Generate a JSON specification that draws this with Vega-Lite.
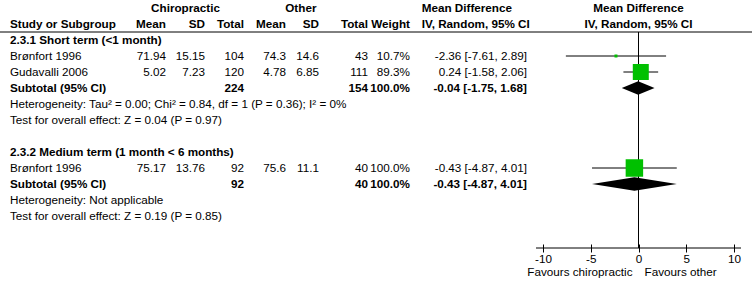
{
  "$schema": "https://vega.github.io/schema/vega-lite/v6.json",
  "width": 752,
  "height": 288,
  "padding": 0,
  "autosize": "none",
  "background": "white",
  "config": {
    "view": {"stroke": null},
    "font": "Liberation Sans",
    "text": {"font": "Liberation Sans", "fontSize": 11.7, "color": "black"}
  },
  "datasets": {
    "studies": [
      {"grp": "2.3.1", "row": 3, "kind": "study", "label": "Brønfort 1996", "mean1": 71.94, "sd1": 15.15, "n1": 104, "mean2": 74.3, "sd2": 14.6, "n2": 43, "weight": 10.7, "md": -2.36, "lo": -7.61, "hi": 2.89},
      {"grp": "2.3.1", "row": 4, "kind": "study", "label": "Gudavalli 2006", "mean1": 5.02, "sd1": 7.23, "n1": 120, "mean2": 4.78, "sd2": 6.85, "n2": 111, "weight": 89.3, "md": 0.24, "lo": -1.58, "hi": 2.06},
      {"grp": "2.3.1", "row": 5, "kind": "subtotal", "label": "Subtotal (95% CI)", "n1": 224, "n2": 154, "weight": 100, "md": -0.04, "lo": -1.75, "hi": 1.68},
      {"grp": "2.3.2", "row": 10, "kind": "study", "label": "Brønfort 1996", "mean1": 75.17, "sd1": 13.76, "n1": 92, "mean2": 75.6, "sd2": 11.1, "n2": 40, "weight": 100, "md": -0.43, "lo": -4.87, "hi": 4.01},
      {"grp": "2.3.2", "row": 11, "kind": "subtotal", "label": "Subtotal (95% CI)", "n1": 92, "n2": 40, "weight": 100, "md": -0.43, "lo": -4.87, "hi": 4.01}
    ],
    "colheads": [
      {"col": 1, "name": "Mean"},
      {"col": 2, "name": "SD"},
      {"col": 3, "name": "Total"},
      {"col": 4, "name": "Mean"},
      {"col": 5, "name": "SD"},
      {"col": 6, "name": "Total"},
      {"col": 7, "name": "Weight"}
    ],
    "groups": [
      {"row": 2, "title": "2.3.1 Short term (<1 month)"},
      {"row": 9, "title": "2.3.2 Medium term (1 month < 6 months)"}
    ],
    "notes": [
      {"row": 6, "text": "Heterogeneity: Tau² = 0.00; Chi² = 0.84, df = 1 (P = 0.36); I² = 0%"},
      {"row": 7, "text": "Test for overall effect: Z = 0.04 (P = 0.97)"},
      {"row": 12, "text": "Heterogeneity: Not applicable"},
      {"row": 13, "text": "Test for overall effect: Z = 0.19 (P = 0.85)"}
    ]
  },
  "layer": [
    {
      "layer": [
        {
          "data": {"values": [{}]},
          "mark": {"type": "rule", "color": "black", "strokeWidth": 1},
          "encoding": {
            "x": {"datum": -1, "type": "quantitative", "axis": null,
                  "scale": {"type": "linear", "domain": [-1, 0, 1, 2, 3, 4, 5, 6, 7, 8, 9], "range": [0, 10, 166, 205, 244, 286, 319, 368, 410, 527, 752], "nice": false, "zero": false}},
            "x2": {"datum": 9},
            "y": {"datum": 1.5, "type": "quantitative", "axis": null,
                  "scale": {"domain": [-0.5, 17.5], "reverse": true, "nice": false, "zero": false}}
          }
        },
        {
          "data": {"values": [{}]},
          "mark": {"type": "text", "fontWeight": "bold", "align": "center"},
          "encoding": {
            "x": {"datum": 1.5, "type": "quantitative", "axis": null},
            "y": {"datum": 0, "type": "quantitative", "axis": null},
            "text": {"value": "Chiropractic"}
          }
        },
        {
          "data": {"values": [{}]},
          "mark": {"type": "text", "fontWeight": "bold", "align": "center"},
          "encoding": {
            "x": {"datum": 4.45, "type": "quantitative", "axis": null},
            "y": {"datum": 0, "type": "quantitative", "axis": null},
            "text": {"value": "Other"}
          }
        },
        {
          "data": {"values": [{}]},
          "mark": {"type": "text", "fontWeight": "bold", "align": "left"},
          "encoding": {
            "x": {"datum": 7.1, "type": "quantitative", "axis": null},
            "y": {"datum": 0, "type": "quantitative", "axis": null},
            "text": {"value": "Mean Difference"}
          }
        },
        {
          "data": {"values": [{}]},
          "mark": {"type": "text", "fontWeight": "bold", "align": "left"},
          "encoding": {
            "x": {"datum": 0, "type": "quantitative", "axis": null},
            "y": {"datum": 1, "type": "quantitative", "axis": null},
            "text": {"value": "Study or Subgroup"}
          }
        },
        {
          "data": {"name": "colheads"},
          "mark": {"type": "text", "fontWeight": "bold", "align": "right"},
          "encoding": {
            "x": {"field": "col", "type": "quantitative", "axis": null},
            "y": {"datum": 1, "type": "quantitative", "axis": null},
            "text": {"field": "name", "type": "nominal"}
          }
        },
        {
          "data": {"values": [{}]},
          "mark": {"type": "text", "fontWeight": "bold", "align": "left"},
          "encoding": {
            "x": {"datum": 7.1, "type": "quantitative", "axis": null},
            "y": {"datum": 1, "type": "quantitative", "axis": null},
            "text": {"value": "IV, Random, 95% CI"}
          }
        },
        {
          "data": {"name": "groups"},
          "mark": {"type": "text", "fontWeight": "bold", "align": "left"},
          "encoding": {
            "x": {"datum": 0, "type": "quantitative", "axis": null},
            "y": {"field": "row", "type": "quantitative", "axis": null},
            "text": {"field": "title", "type": "nominal"}
          }
        },
        {
          "data": {"name": "notes"},
          "mark": {"type": "text", "align": "left"},
          "encoding": {
            "x": {"datum": 0, "type": "quantitative", "axis": null},
            "y": {"field": "row", "type": "quantitative", "axis": null},
            "text": {"field": "text", "type": "nominal"}
          }
        },
        {
          "data": {"name": "studies"},
          "transform": [{"filter": "datum.kind == 'study'"}],
          "mark": {"type": "text", "align": "left"},
          "encoding": {
            "x": {"datum": 0, "type": "quantitative", "axis": null},
            "y": {"field": "row", "type": "quantitative", "axis": null},
            "text": {"field": "label", "type": "nominal"}
          }
        },
        {
          "data": {"name": "studies"},
          "transform": [{"filter": "datum.kind == 'subtotal'"}],
          "mark": {"type": "text", "align": "left", "fontWeight": "bold"},
          "encoding": {
            "x": {"datum": 0, "type": "quantitative", "axis": null},
            "y": {"field": "row", "type": "quantitative", "axis": null},
            "text": {"field": "label", "type": "nominal"}
          }
        },
        {
          "data": {"name": "studies"},
          "transform": [
            {"filter": "datum.kind == 'study'"},
            {"calculate": "format(datum.weight, '.1f') + '%'", "as": "wtxt"},
            {"calculate": "datum.md + ' [' + datum.lo + ', ' + datum.hi + ']'", "as": "citxt"},
            {"fold": ["mean1", "sd1", "n1", "mean2", "sd2", "n2", "wtxt", "citxt"], "as": ["key", "val"]},
            {"filter": "isValid(datum.val)"},
            {"calculate": "indexof(['label', 'mean1', 'sd1', 'n1', 'mean2', 'sd2', 'n2', 'wtxt', 'citxt'], datum.key)", "as": "col"}
          ],
          "mark": {"type": "text", "align": "right"},
          "encoding": {
            "x": {"field": "col", "type": "quantitative", "axis": null},
            "y": {"field": "row", "type": "quantitative", "axis": null},
            "text": {"field": "val", "type": "nominal"}
          }
        },
        {
          "data": {"name": "studies"},
          "transform": [
            {"filter": "datum.kind == 'subtotal'"},
            {"calculate": "format(datum.weight, '.1f') + '%'", "as": "wtxt"},
            {"calculate": "datum.md + ' [' + datum.lo + ', ' + datum.hi + ']'", "as": "citxt"},
            {"fold": ["mean1", "sd1", "n1", "mean2", "sd2", "n2", "wtxt", "citxt"], "as": ["key", "val"]},
            {"filter": "isValid(datum.val)"},
            {"calculate": "indexof(['label', 'mean1', 'sd1', 'n1', 'mean2', 'sd2', 'n2', 'wtxt', 'citxt'], datum.key)", "as": "col"}
          ],
          "mark": {"type": "text", "align": "right", "fontWeight": "bold"},
          "encoding": {
            "x": {"field": "col", "type": "quantitative", "axis": null},
            "y": {"field": "row", "type": "quantitative", "axis": null},
            "text": {"field": "val", "type": "nominal"}
          }
        }
      ]
    },
    {
      "layer": [
        {
          "data": {"values": [{}]},
          "mark": {"type": "rule", "color": "black", "strokeWidth": 1},
          "encoding": {
            "x": {"datum": 0, "type": "quantitative",
                  "scale": {"type": "linear", "domain": [-10.74, 10.74], "range": [536, 741], "nice": false, "zero": false},
                  "axis": {"values": [-10, -5, 0, 5, 10], "offset": -44, "domain": false, "grid": false, "ticks": true, "tickSize": 8, "tickColor": "black", "tickWidth": 1, "labelColor": "black", "labelFont": "Liberation Sans", "labelFontSize": 11.7, "labelPadding": 1, "labelExpr": "'' + datum.value", "title": null, "labelFlush": false, "labelOverlap": false, "labelBound": false}},
            "y": {"datum": 1.5, "type": "quantitative", "axis": null},
            "y2": {"datum": 15}
          }
        },
        {
          "data": {"values": [{}]},
          "mark": {"type": "rule", "color": "black", "strokeWidth": 1},
          "encoding": {
            "x": {"datum": -10.74, "type": "quantitative"},
            "x2": {"datum": 10.74},
            "y": {"datum": 15, "type": "quantitative", "axis": null}
          }
        },
        {
          "data": {"name": "studies"},
          "transform": [{"filter": "datum.kind == 'study'"}],
          "mark": {"type": "rule", "color": "black", "strokeWidth": 1},
          "encoding": {
            "x": {"field": "lo", "type": "quantitative"},
            "x2": {"field": "hi"},
            "y": {"field": "row", "type": "quantitative", "axis": null}
          }
        },
        {
          "data": {"name": "studies"},
          "transform": [{"filter": "datum.kind == 'study'"}],
          "mark": {"type": "square", "color": "#00c000", "filled": true, "opacity": 1},
          "encoding": {
            "x": {"field": "md", "type": "quantitative"},
            "y": {"field": "row", "type": "quantitative", "axis": null},
            "size": {"field": "weight", "type": "quantitative", "legend": null,
                     "scale": {"type": "pow", "exponent": 1.58, "domain": [0, 100], "range": [0, 306]}}
          }
        },
        {
          "data": {"name": "studies"},
          "transform": [
            {"filter": "datum.kind == 'subtotal'"},
            {"fold": ["lo", "md", "hi"], "as": ["k", "xv"]},
            {"calculate": "datum.k == 'md' ? 0.42 : 0", "as": "h"},
            {"calculate": "datum.row - datum.h", "as": "ytop"},
            {"calculate": "datum.row + datum.h", "as": "ybot"}
          ],
          "mark": {"type": "area", "color": "black", "orient": "vertical", "opacity": 1},
          "encoding": {
            "x": {"field": "xv", "type": "quantitative"},
            "y": {"field": "ytop", "type": "quantitative", "axis": null},
            "y2": {"field": "ybot"},
            "detail": {"field": "grp", "type": "nominal"}
          }
        },
        {
          "data": {"values": [{}]},
          "mark": {"type": "text", "fontWeight": "bold", "align": "center"},
          "encoding": {
            "x": {"datum": 0, "type": "quantitative"},
            "y": {"datum": 0, "type": "quantitative", "axis": null},
            "text": {"value": "Mean Difference"}
          }
        },
        {
          "data": {"values": [{}]},
          "mark": {"type": "text", "fontWeight": "bold", "align": "center"},
          "encoding": {
            "x": {"datum": 0, "type": "quantitative"},
            "y": {"datum": 1, "type": "quantitative", "axis": null},
            "text": {"value": "IV, Random, 95% CI"}
          }
        },
        {
          "data": {"values": [{}]},
          "mark": {"type": "text", "align": "right", "dx": -6},
          "encoding": {
            "x": {"datum": 0, "type": "quantitative"},
            "y": {"datum": 16.5, "type": "quantitative", "axis": null},
            "text": {"value": "Favours chiropractic"}
          }
        },
        {
          "data": {"values": [{}]},
          "mark": {"type": "text", "align": "left", "dx": 6},
          "encoding": {
            "x": {"datum": 0, "type": "quantitative"},
            "y": {"datum": 16.5, "type": "quantitative", "axis": null},
            "text": {"value": "Favours other"}
          }
        }
      ]
    }
  ],
  "resolve": {"scale": {"x": "independent"}, "axis": {"x": "independent"}}
}
